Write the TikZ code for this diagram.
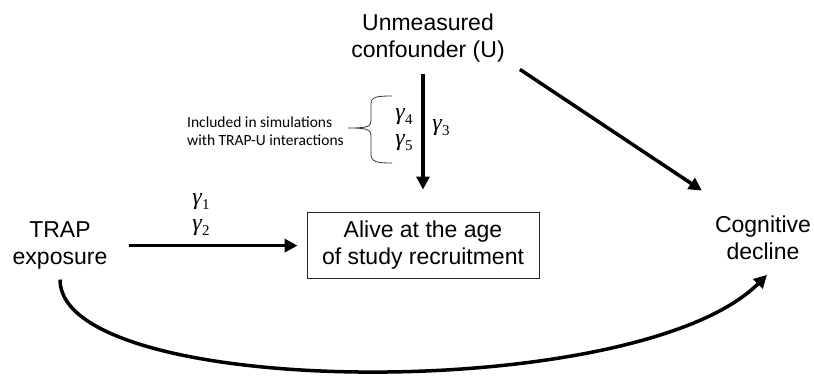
\documentclass[tikz,border=0pt]{standalone}
\usepackage{fontspec}
\setmainfont{Liberation Sans}
\newfontfamily\notefont{Carlito}
\newfontfamily\coeffont{Liberation Serif}
\usetikzlibrary{arrows.meta,calc}

\newcommand{\gam}[1]{{\itshape γ}\kern0.5pt\raisebox{-0.2em}{\fontsize{15}{15}\selectfont #1}}

\begin{document}
\begin{tikzpicture}[x=1pt, y=-1pt,
        var/.style={align=center, inner sep=0pt, font=\fontsize{23}{27}\selectfont},
        box/.style={draw=black!85, line width=0.9pt, minimum width=232pt, minimum height=66pt, align=center, inner sep=0pt, font=\fontsize{23}{27}\selectfont},
        coef/.style={align=center, inner sep=0pt, font=\coeffont\fontsize{24}{26}\selectfont},
        note/.style={align=left, inner sep=0pt, font=\notefont\fontsize{15.5}{18}\selectfont},
        arrow/.style={-{Triangle[length=13pt,width=13pt]}, line width=3.5pt}]
    \useasboundingbox (0,0) rectangle (814,375);

    % Variables
    \node[var] (U) at (428,38) {Unmeasured\\confounder (U)};
    \node[box] (alive) at (423,245) {Alive at the age\\of study recruitment};
    \node[var] (trap) at (60,245.6) {TRAP\\exposure};
    \node[var] (cog) at (763,237.7) {Cognitive\\decline};

    % Coefficients
    \node[coef] (g12) at (201,215) {\gam{1}\\\gam{2}};
    \node[coef] (g3) at (441,128) {\gam{3}};
    \node[coef] (g45) at (404,130) {\gam{4}\\\gam{5}};
    \node[note, anchor=west] (incl) at (187,131) {Included in simulations\\with TRAP-U interactions};

    % Arrows
    \draw[arrow, shorten <=21pt, shorten >=9pt] (trap.east) -- (trap.east -| alive.west);
    \draw[arrow, shorten <=12pt, shorten >=22pt] (U.south -| alive.north) -- (alive.north);
    \draw[arrow] ($(U.south east)+(15,7)$) -- ($(cog.north west)+(-13,-25)$);
    \draw[arrow, shorten <=10pt] (trap.south) .. controls +(0,130) and +(-130,130) .. ($(cog.south)+(4,15)$);

    % Brace for the interaction terms
    \draw[black!80, line width=0.8pt] (392,96) .. controls (376,96) and (371,97) .. (371,104) -- (371,121)
        .. controls (371,127) and (366,128) .. (348,128)
        .. controls (366,128) and (371,129) .. (371,136) -- (371,154)
        .. controls (371,162) and (377,163) .. (392,163);
\end{tikzpicture}
\end{document}
